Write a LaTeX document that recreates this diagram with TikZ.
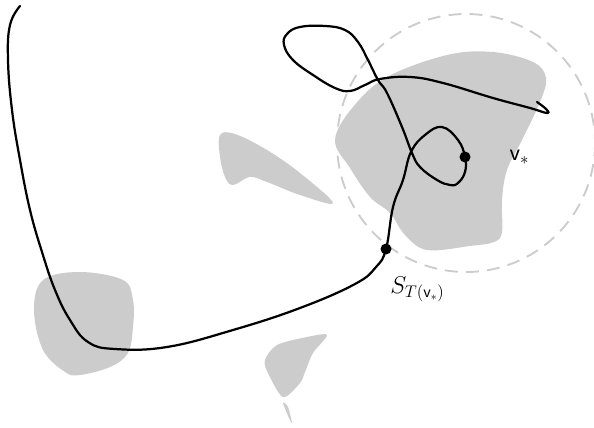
\documentclass[tikz,border=0pt]{standalone}
\usepackage{amsmath}
\usepackage{amssymb}
\usetikzlibrary{positioning}

\begin{document}
\begin{tikzpicture}[
    x=0.03cm, y=-0.03cm,
    blob/.style={fill=black!20, draw=none},
    walk/.style={line width=1.9pt, line join=round, line cap=round},
    ball/.style={draw=black!20, line width=1.6pt, dash pattern=on 11pt off 7pt},
    dot/.style={circle, fill=black, inner sep=0pt, minimum size=0.33cm},
    lbl/.style={font=\fontsize{20}{24}\selectfont, inner sep=0pt}
]
\useasboundingbox (0,0) rectangle (594,428);

% obstacles
\fill[blob] plot[smooth cycle, tension=0.6] coordinates {(335,140) (353,107) (387,77) (447,55) (493,52) (533,62) (546,78) (540,102) (522,140) (507,170) (502,200) (502,232) (494,242) (470,246) (427,250) (405,235) (390,213) (370,197) (350,168)};
\fill[blob] plot[smooth cycle, tension=0.6] coordinates {(220,135) (235,134) (267,150) (300,173) (333,203) (300,195) (267,182) (250,177) (233,185) (225,177) (220,157)};
\fill[blob] plot[smooth cycle, tension=0.6] coordinates {(80,272) (43,280) (34,310) (43,350) (65,372) (80,375) (110,367) (128,353) (133,327) (133,300) (123,280)};
\fill[blob] plot[smooth cycle, tension=0.5] coordinates {(327,335) (307,337) (277,345) (265,360) (268,373) (283,397) (300,383) (305,372) (313,353)};
\fill[blob] plot[smooth cycle, tension=0.5] coordinates {(283,403) (289,418) (292,423) (288,407)};

% ball around v*
\coordinate (ctr) at (466,143);
\draw[ball] (ctr) circle[radius=129];

% marked points
\node[dot] (vstar) at (465,157) {};
\node[dot] (hit) at (386,249) {};
\node[lbl, right=33pt of vstar] (vlab) {$\mathsf{v}_*$};
\node[lbl, below right=20pt and 0pt of hit] (slab) {$S_{T(\mathsf{v}_*)}$};

% the path
\draw[walk] plot[smooth, tension=0.7] coordinates {(20,6) (10,25) (8,60) (12,110) (20,160) (30,210) (42,252) (55,290) (70,320) (88,342) (115,349) (167,347) (233,330) (300,308) (355,284) (376,267) (386,249) (393,207) (403,180) (411,152) (425,135) (442,127) (458,140) (465,157) (465,172) (458,183) (450,185) (437,180) (420,167) (412,153) (402,127) (387,93) (378,80) (368,60) (358,42) (345,30) (325,26) (300,27) (287,34) (284,45) (293,60) (313,75) (335,88) (350,91) (365,85) (380,79) (410,77) (443,83) (493,98) (530,108) (547,113) (546,109) (537,102)};
\end{tikzpicture}
\end{document}
